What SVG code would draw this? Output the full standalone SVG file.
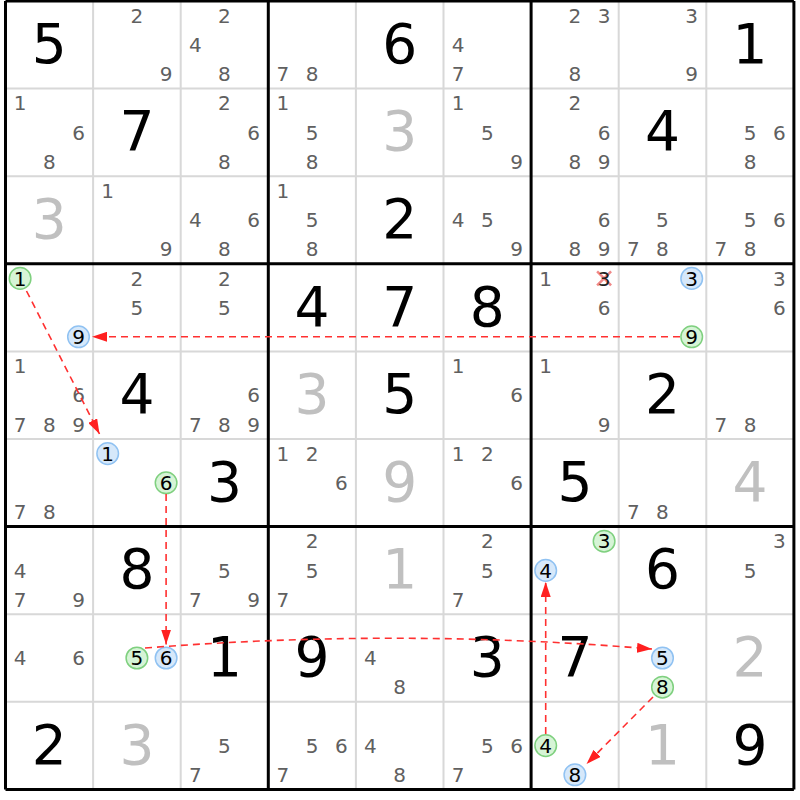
<svg xmlns="http://www.w3.org/2000/svg" width="800" height="800" viewBox="0 0 800 800">
<style>
text{font-family:"DejaVu Sans","Noto Sans",sans-serif;text-anchor:middle}
.g{font-size:55px;fill:#000}
.s{font-size:55px;fill:#c0c0c0}
.c{font-size:20px;fill:#606060}
.h{font-size:20px;fill:#000}
.thin{stroke:#d8d8d8;stroke-width:2}
.thick{stroke:#000;stroke-width:3}
.cg{fill:#d6f4d6;stroke:#7fd07f;stroke-width:1.5}
.cb{fill:#d6e8fa;stroke:#90c2f2;stroke-width:1.5}
.lk{fill:none;stroke:#ff3030;stroke-width:1.6;stroke-dasharray:7 5}
.x{stroke:#f08888;stroke-width:2.5}
</style>
<defs>
<marker id="ah" markerUnits="userSpaceOnUse" markerWidth="15" markerHeight="10" refX="15" refY="5" orient="auto">
<path d="M0,0 L15,5 L0,10 z" fill="#ff2020"/>
</marker>
</defs>
<rect width="800" height="800" fill="#fff"/>
<g id="grid">
<path class="thin" d="M93.1,1V789.4M180.7,1V789.4M355.9,1V789.4M443.5,1V789.4M618.7,1V789.4M706.3,1V789.4M5.5,88.6H793.9M5.5,176.2H793.9M5.5,351.4H793.9M5.5,439H793.9M5.5,614.2H793.9M5.5,701.8H793.9"/>
<path class="thick" d="M5.5,1V789.4M268.3,1V789.4M531.1,1V789.4M793.9,1V789.4M5.5,1H793.9M5.5,263.8H793.9M5.5,526.6H793.9M5.5,789.4H793.9"/>
</g>
<!-- row 0 -->
<g id="r0c0" transform="translate(5.5,1)"><text class="g" x="43.8" y="61.8">5</text></g>
<g id="r0c1" transform="translate(93.1,1)"><text class="c" x="43.8" y="21.8">2</text><text class="c" x="73" y="80.2">9</text></g>
<g id="r0c2" transform="translate(180.7,1)"><text class="c" x="43.8" y="21.8">2</text><text class="c" x="14.6" y="51">4</text><text class="c" x="43.8" y="80.2">8</text></g>
<g id="r0c3" transform="translate(268.3,1)"><text class="c" x="14.6" y="80.2">7</text><text class="c" x="43.8" y="80.2">8</text></g>
<g id="r0c4" transform="translate(355.9,1)"><text class="g" x="43.8" y="61.8">6</text></g>
<g id="r0c5" transform="translate(443.5,1)"><text class="c" x="14.6" y="51">4</text><text class="c" x="14.6" y="80.2">7</text></g>
<g id="r0c6" transform="translate(531.1,1)"><text class="c" x="43.8" y="21.8">2</text><text class="c" x="73" y="21.8">3</text><text class="c" x="43.8" y="80.2">8</text></g>
<g id="r0c7" transform="translate(618.7,1)"><text class="c" x="73" y="21.8">3</text><text class="c" x="73" y="80.2">9</text></g>
<g id="r0c8" transform="translate(706.3,1)"><text class="g" x="43.8" y="61.8">1</text></g>
<!-- row 1 -->
<g id="r1c0" transform="translate(5.5,88.6)"><text class="c" x="14.6" y="21.8">1</text><text class="c" x="73" y="51">6</text><text class="c" x="43.8" y="80.2">8</text></g>
<g id="r1c1" transform="translate(93.1,88.6)"><text class="g" x="43.8" y="61.8">7</text></g>
<g id="r1c2" transform="translate(180.7,88.6)"><text class="c" x="43.8" y="21.8">2</text><text class="c" x="73" y="51">6</text><text class="c" x="43.8" y="80.2">8</text></g>
<g id="r1c3" transform="translate(268.3,88.6)"><text class="c" x="14.6" y="21.8">1</text><text class="c" x="43.8" y="51">5</text><text class="c" x="43.8" y="80.2">8</text></g>
<g id="r1c4" transform="translate(355.9,88.6)"><text class="s" x="43.8" y="61.8">3</text></g>
<g id="r1c5" transform="translate(443.5,88.6)"><text class="c" x="14.6" y="21.8">1</text><text class="c" x="43.8" y="51">5</text><text class="c" x="73" y="80.2">9</text></g>
<g id="r1c6" transform="translate(531.1,88.6)"><text class="c" x="43.8" y="21.8">2</text><text class="c" x="73" y="51">6</text><text class="c" x="43.8" y="80.2">8</text><text class="c" x="73" y="80.2">9</text></g>
<g id="r1c7" transform="translate(618.7,88.6)"><text class="g" x="43.8" y="61.8">4</text></g>
<g id="r1c8" transform="translate(706.3,88.6)"><text class="c" x="43.8" y="51">5</text><text class="c" x="73" y="51">6</text><text class="c" x="43.8" y="80.2">8</text></g>
<!-- row 2 -->
<g id="r2c0" transform="translate(5.5,176.2)"><text class="s" x="43.8" y="61.8">3</text></g>
<g id="r2c1" transform="translate(93.1,176.2)"><text class="c" x="14.6" y="21.8">1</text><text class="c" x="73" y="80.2">9</text></g>
<g id="r2c2" transform="translate(180.7,176.2)"><text class="c" x="14.6" y="51">4</text><text class="c" x="73" y="51">6</text><text class="c" x="43.8" y="80.2">8</text></g>
<g id="r2c3" transform="translate(268.3,176.2)"><text class="c" x="14.6" y="21.8">1</text><text class="c" x="43.8" y="51">5</text><text class="c" x="43.8" y="80.2">8</text></g>
<g id="r2c4" transform="translate(355.9,176.2)"><text class="g" x="43.8" y="61.8">2</text></g>
<g id="r2c5" transform="translate(443.5,176.2)"><text class="c" x="14.6" y="51">4</text><text class="c" x="43.8" y="51">5</text><text class="c" x="73" y="80.2">9</text></g>
<g id="r2c6" transform="translate(531.1,176.2)"><text class="c" x="73" y="51">6</text><text class="c" x="43.8" y="80.2">8</text><text class="c" x="73" y="80.2">9</text></g>
<g id="r2c7" transform="translate(618.7,176.2)"><text class="c" x="43.8" y="51">5</text><text class="c" x="14.6" y="80.2">7</text><text class="c" x="43.8" y="80.2">8</text></g>
<g id="r2c8" transform="translate(706.3,176.2)"><text class="c" x="43.8" y="51">5</text><text class="c" x="73" y="51">6</text><text class="c" x="14.6" y="80.2">7</text><text class="c" x="43.8" y="80.2">8</text></g>
<!-- row 3 -->
<g id="r3c0" transform="translate(5.5,263.8)"><circle class="cg" cx="14.6" cy="14.6" r="10.8"/><text class="h" x="14.6" y="21.8">1</text><circle class="cb" cx="73" cy="73" r="10.8"/><text class="h" x="73" y="80.2">9</text></g>
<g id="r3c1" transform="translate(93.1,263.8)"><text class="c" x="43.8" y="21.8">2</text><text class="c" x="43.8" y="51">5</text></g>
<g id="r3c2" transform="translate(180.7,263.8)"><text class="c" x="43.8" y="21.8">2</text><text class="c" x="43.8" y="51">5</text></g>
<g id="r3c3" transform="translate(268.3,263.8)"><text class="g" x="43.8" y="61.8">4</text></g>
<g id="r3c4" transform="translate(355.9,263.8)"><text class="g" x="43.8" y="61.8">7</text></g>
<g id="r3c5" transform="translate(443.5,263.8)"><text class="g" x="43.8" y="61.8">8</text></g>
<g id="r3c6" transform="translate(531.1,263.8)"><text class="c" x="14.6" y="21.8">1</text><path class="x" d="M66,7.6L80,21.6M80,7.6L66,21.6"/><text class="h" x="73" y="21.8" style="fill:#222">3</text><text class="c" x="73" y="51">6</text></g>
<g id="r3c7" transform="translate(618.7,263.8)"><circle class="cb" cx="73" cy="14.6" r="10.8"/><text class="h" x="73" y="21.8">3</text><circle class="cg" cx="73" cy="73" r="10.8"/><text class="h" x="73" y="80.2">9</text></g>
<g id="r3c8" transform="translate(706.3,263.8)"><text class="c" x="73" y="21.8">3</text><text class="c" x="73" y="51">6</text></g>
<!-- row 4 -->
<g id="r4c0" transform="translate(5.5,351.4)"><text class="c" x="14.6" y="21.8">1</text><text class="c" x="73" y="51">6</text><text class="c" x="14.6" y="80.2">7</text><text class="c" x="43.8" y="80.2">8</text><text class="c" x="73" y="80.2">9</text></g>
<g id="r4c1" transform="translate(93.1,351.4)"><text class="g" x="43.8" y="61.8">4</text></g>
<g id="r4c2" transform="translate(180.7,351.4)"><text class="c" x="73" y="51">6</text><text class="c" x="14.6" y="80.2">7</text><text class="c" x="43.8" y="80.2">8</text><text class="c" x="73" y="80.2">9</text></g>
<g id="r4c3" transform="translate(268.3,351.4)"><text class="s" x="43.8" y="61.8">3</text></g>
<g id="r4c4" transform="translate(355.9,351.4)"><text class="g" x="43.8" y="61.8">5</text></g>
<g id="r4c5" transform="translate(443.5,351.4)"><text class="c" x="14.6" y="21.8">1</text><text class="c" x="73" y="51">6</text></g>
<g id="r4c6" transform="translate(531.1,351.4)"><text class="c" x="14.6" y="21.8">1</text><text class="c" x="73" y="80.2">9</text></g>
<g id="r4c7" transform="translate(618.7,351.4)"><text class="g" x="43.8" y="61.8">2</text></g>
<g id="r4c8" transform="translate(706.3,351.4)"><text class="c" x="14.6" y="80.2">7</text><text class="c" x="43.8" y="80.2">8</text></g>
<!-- row 5 -->
<g id="r5c0" transform="translate(5.5,439)"><text class="c" x="14.6" y="80.2">7</text><text class="c" x="43.8" y="80.2">8</text></g>
<g id="r5c1" transform="translate(93.1,439)"><circle class="cb" cx="14.6" cy="14.6" r="10.8"/><text class="h" x="14.6" y="21.8">1</text><circle class="cg" cx="73" cy="43.8" r="10.8"/><text class="h" x="73" y="51">6</text></g>
<g id="r5c2" transform="translate(180.7,439)"><text class="g" x="43.8" y="61.8">3</text></g>
<g id="r5c3" transform="translate(268.3,439)"><text class="c" x="14.6" y="21.8">1</text><text class="c" x="43.8" y="21.8">2</text><text class="c" x="73" y="51">6</text></g>
<g id="r5c4" transform="translate(355.9,439)"><text class="s" x="43.8" y="61.8">9</text></g>
<g id="r5c5" transform="translate(443.5,439)"><text class="c" x="14.6" y="21.8">1</text><text class="c" x="43.8" y="21.8">2</text><text class="c" x="73" y="51">6</text></g>
<g id="r5c6" transform="translate(531.1,439)"><text class="g" x="43.8" y="61.8">5</text></g>
<g id="r5c7" transform="translate(618.7,439)"><text class="c" x="14.6" y="80.2">7</text><text class="c" x="43.8" y="80.2">8</text></g>
<g id="r5c8" transform="translate(706.3,439)"><text class="s" x="43.8" y="61.8">4</text></g>
<!-- row 6 -->
<g id="r6c0" transform="translate(5.5,526.6)"><text class="c" x="14.6" y="51">4</text><text class="c" x="14.6" y="80.2">7</text><text class="c" x="73" y="80.2">9</text></g>
<g id="r6c1" transform="translate(93.1,526.6)"><text class="g" x="43.8" y="61.8">8</text></g>
<g id="r6c2" transform="translate(180.7,526.6)"><text class="c" x="43.8" y="51">5</text><text class="c" x="14.6" y="80.2">7</text><text class="c" x="73" y="80.2">9</text></g>
<g id="r6c3" transform="translate(268.3,526.6)"><text class="c" x="43.8" y="21.8">2</text><text class="c" x="43.8" y="51">5</text><text class="c" x="14.6" y="80.2">7</text></g>
<g id="r6c4" transform="translate(355.9,526.6)"><text class="s" x="43.8" y="61.8">1</text></g>
<g id="r6c5" transform="translate(443.5,526.6)"><text class="c" x="43.8" y="21.8">2</text><text class="c" x="43.8" y="51">5</text><text class="c" x="14.6" y="80.2">7</text></g>
<g id="r6c6" transform="translate(531.1,526.6)"><circle class="cg" cx="73" cy="14.6" r="10.8"/><text class="h" x="73" y="21.8">3</text><circle class="cb" cx="14.6" cy="43.8" r="10.8"/><text class="h" x="14.6" y="51">4</text></g>
<g id="r6c7" transform="translate(618.7,526.6)"><text class="g" x="43.8" y="61.8">6</text></g>
<g id="r6c8" transform="translate(706.3,526.6)"><text class="c" x="73" y="21.8">3</text><text class="c" x="43.8" y="51">5</text></g>
<!-- row 7 -->
<g id="r7c0" transform="translate(5.5,614.2)"><text class="c" x="14.6" y="51">4</text><text class="c" x="73" y="51">6</text></g>
<g id="r7c1" transform="translate(93.1,614.2)"><circle class="cg" cx="43.8" cy="43.8" r="10.8"/><text class="h" x="43.8" y="51">5</text><circle class="cb" cx="73" cy="43.8" r="10.8"/><text class="h" x="73" y="51">6</text></g>
<g id="r7c2" transform="translate(180.7,614.2)"><text class="g" x="43.8" y="61.8">1</text></g>
<g id="r7c3" transform="translate(268.3,614.2)"><text class="g" x="43.8" y="61.8">9</text></g>
<g id="r7c4" transform="translate(355.9,614.2)"><text class="c" x="14.6" y="51">4</text><text class="c" x="43.8" y="80.2">8</text></g>
<g id="r7c5" transform="translate(443.5,614.2)"><text class="g" x="43.8" y="61.8">3</text></g>
<g id="r7c6" transform="translate(531.1,614.2)"><text class="g" x="43.8" y="61.8">7</text></g>
<g id="r7c7" transform="translate(618.7,614.2)"><circle class="cb" cx="43.8" cy="43.8" r="10.8"/><text class="h" x="43.8" y="51">5</text><circle class="cg" cx="43.8" cy="73" r="10.8"/><text class="h" x="43.8" y="80.2">8</text></g>
<g id="r7c8" transform="translate(706.3,614.2)"><text class="s" x="43.8" y="61.8">2</text></g>
<!-- row 8 -->
<g id="r8c0" transform="translate(5.5,701.8)"><text class="g" x="43.8" y="61.8">2</text></g>
<g id="r8c1" transform="translate(93.1,701.8)"><text class="s" x="43.8" y="61.8">3</text></g>
<g id="r8c2" transform="translate(180.7,701.8)"><text class="c" x="43.8" y="51">5</text><text class="c" x="14.6" y="80.2">7</text></g>
<g id="r8c3" transform="translate(268.3,701.8)"><text class="c" x="43.8" y="51">5</text><text class="c" x="73" y="51">6</text><text class="c" x="14.6" y="80.2">7</text></g>
<g id="r8c4" transform="translate(355.9,701.8)"><text class="c" x="14.6" y="51">4</text><text class="c" x="43.8" y="80.2">8</text></g>
<g id="r8c5" transform="translate(443.5,701.8)"><text class="c" x="43.8" y="51">5</text><text class="c" x="73" y="51">6</text><text class="c" x="14.6" y="80.2">7</text></g>
<g id="r8c6" transform="translate(531.1,701.8)"><circle class="cg" cx="14.6" cy="43.8" r="10.8"/><text class="h" x="14.6" y="51">4</text><circle class="cb" cx="43.8" cy="73" r="10.8"/><text class="h" x="43.8" y="80.2">8</text></g>
<g id="r8c7" transform="translate(618.7,701.8)"><text class="s" x="43.8" y="61.8">1</text></g>
<g id="r8c8" transform="translate(706.3,701.8)"><text class="g" x="43.8" y="61.8">9</text></g>
<g id="connectors">
<path class="lk" d="M26.5,291 L99.5,434" marker-end="url(#ah)"/>
<path class="lk" d="M680,336.8 L92,336.8" marker-end="url(#ah)"/>
<path class="lk" d="M166.1,494 L166.1,644.5" marker-end="url(#ah)"/>
<path class="lk" d="M145,648 Q400,628 652,649" marker-end="url(#ah)"/>
<path class="lk" d="M545.7,734 L545.7,582" marker-end="url(#ah)"/>
<path class="lk" d="M653,697 L586.5,764" marker-end="url(#ah)"/>
</g>
</svg>
